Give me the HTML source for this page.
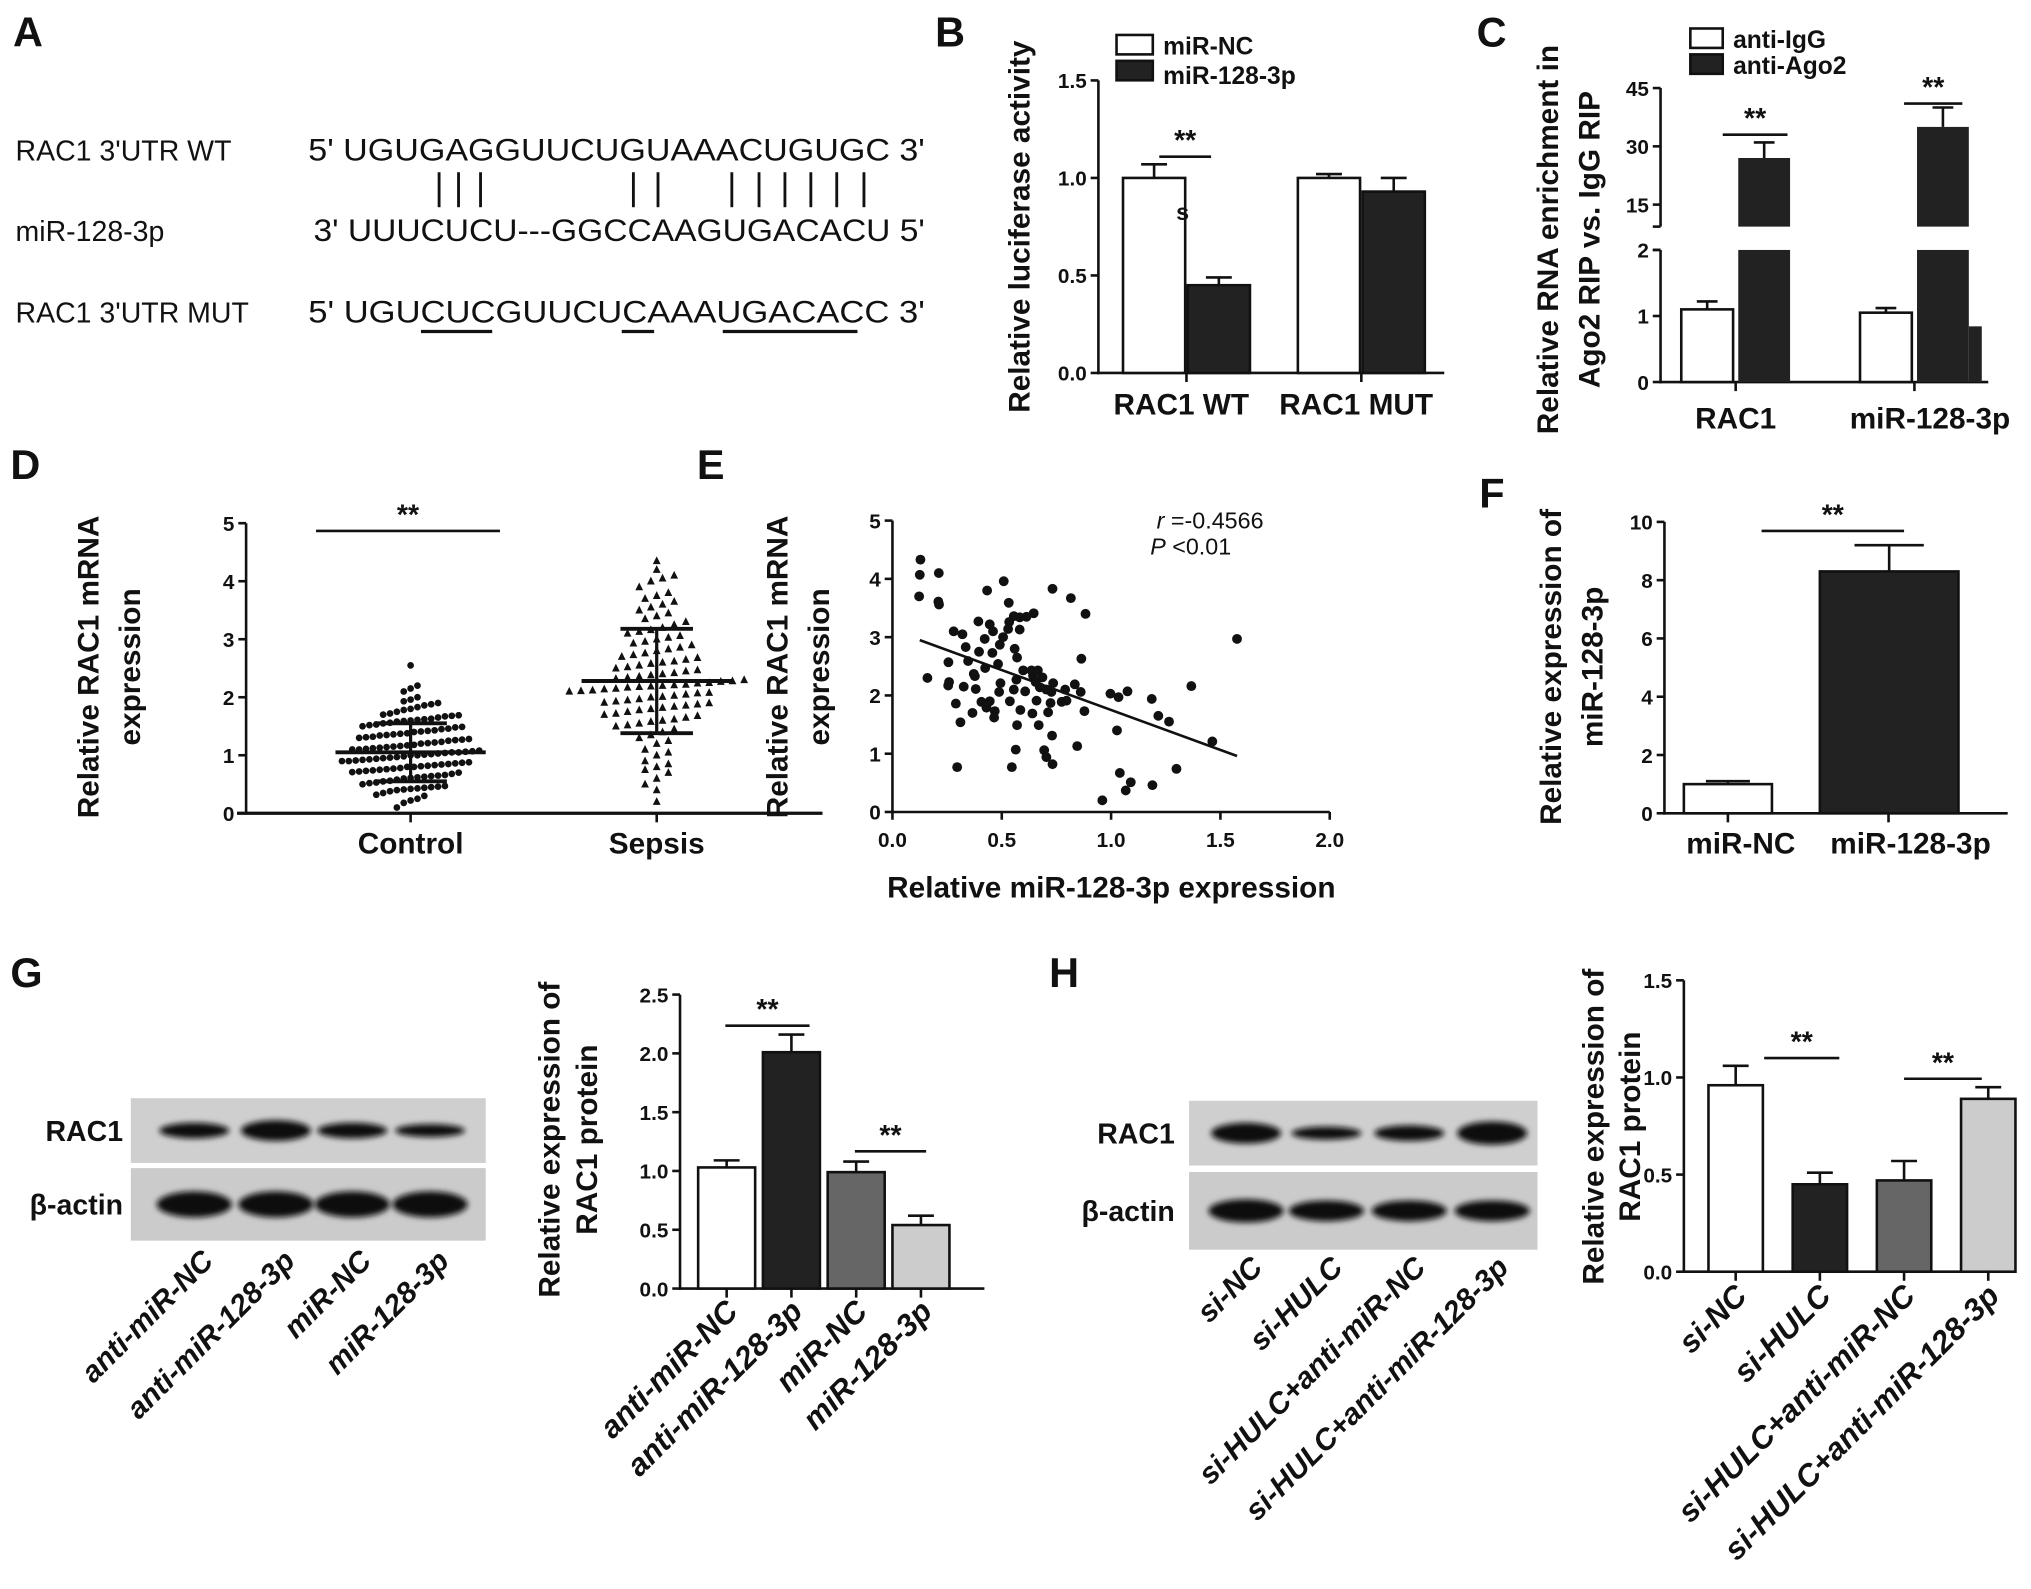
<!DOCTYPE html>
<html><head><meta charset="utf-8"><style>
html,body{margin:0;padding:0;background:#fff;}
svg{display:block;}
text{font-family:"Liberation Sans Narrow","Liberation Sans",sans-serif;fill:#111;}
</style></head><body>
<svg id="fig" xmlns="http://www.w3.org/2000/svg" width="2031" height="1589" viewBox="0 0 1568 1227" preserveAspectRatio="none">
<defs><filter id="blur" x="-20%" y="-50%" width="140%" height="200%"><feGaussianBlur stdDeviation="2.2"/></filter></defs>
<rect x="0" y="0" width="1568" height="1227" fill="#fff"/>
</svg>
<script>
// ---------- DATA ----------
const bCats=['RAC1 WT','RAC1 MUT'];
const bNC=[1.0,1.0]; const bNCerr=[0.07,0.02];
const b128=[0.45,0.93]; const b128err=[0.04,0.07];
const bTicks=[0,0.5,1.0,1.5]; const bTickLabels=['0.0','0.5','1.0','1.5'];

const cCats=['RAC1','miR-128-3p'];
const cIgG=[1.1,1.05]; const cIgGerr=[0.12,0.07];
const cAgo=[27,35]; const cAgoErr=[4,5];
const cTicksLow=[0,1,2]; const cTicksHigh=[15,30,45];

const dControl=[0.1,0.18,0.22,0.25,0.3,0.32,0.35,0.38,0.4,0.41,0.42,0.43,0.44,0.45,0.46,0.47,0.5,0.52,0.53,0.55,0.56,0.58,0.6,0.61,0.62,0.63,0.64,0.65,0.66,0.68,0.7,0.71,0.72,0.73,0.74,0.75,0.76,0.77,0.78,0.8,0.8,0.81,0.82,0.83,0.84,0.85,0.86,0.87,0.88,0.9,0.9,0.91,0.92,0.93,0.94,0.95,0.96,0.97,0.98,1.0,1.0,1.01,1.02,1.03,1.04,1.05,1.05,1.06,1.07,1.08,1.1,1.1,1.11,1.12,1.13,1.14,1.15,1.16,1.17,1.18,1.2,1.21,1.22,1.23,1.25,1.26,1.27,1.28,1.3,1.31,1.32,1.34,1.35,1.36,1.37,1.38,1.4,1.41,1.42,1.43,1.45,1.46,1.48,1.49,1.5,1.52,1.53,1.55,1.56,1.58,1.59,1.6,1.61,1.62,1.63,1.65,1.67,1.68,1.69,1.7,1.72,1.75,1.78,1.8,1.83,1.86,1.88,1.9,1.93,1.96,2.0,2.1,2.15,2.2,2.55];
const dSepsis=[0.2,0.4,0.5,0.6,0.7,0.75,0.8,0.85,0.9,1.0,1.05,1.1,1.2,1.25,1.3,1.35,1.4,1.45,1.5,1.52,1.55,1.58,1.6,1.62,1.65,1.68,1.7,1.72,1.75,1.78,1.8,1.82,1.84,1.86,1.88,1.9,1.91,1.93,1.95,1.97,2.0,2.01,2.03,2.05,2.07,2.08,2.1,2.11,2.12,2.14,2.15,2.17,2.18,2.19,2.2,2.21,2.22,2.24,2.25,2.27,2.28,2.3,2.32,2.34,2.36,2.38,2.4,2.42,2.45,2.47,2.5,2.52,2.55,2.58,2.6,2.62,2.65,2.68,2.7,2.73,2.76,2.8,2.83,2.86,2.9,2.93,2.96,3.0,3.03,3.06,3.1,3.13,3.16,3.2,3.25,3.3,3.35,3.4,3.45,3.5,3.55,3.6,3.65,3.7,3.75,3.8,3.9,4.0,4.05,4.1,4.2,4.35];
const dMean=[1.05,2.28]; const dSD=[0.5,0.9];

const eX=[0.128,0.125,0.212,0.122,0.210,0.213,0.509,0.433,0.732,0.816,0.532,0.883,0.646,0.613,0.582,0.555,0.534,0.393,0.445,0.460,0.582,0.529,0.280,0.320,0.506,0.422,0.491,0.335,0.559,0.396,0.457,0.570,0.864,0.256,0.346,0.483,0.424,0.598,0.636,0.665,0.372,0.643,0.686,0.160,0.377,0.567,0.259,0.255,0.494,0.326,0.381,0.655,0.674,0.735,0.834,0.704,0.555,0.488,0.607,0.790,0.727,0.861,0.997,1.034,1.075,1.186,1.367,1.576,0.290,0.407,0.445,0.537,0.659,0.723,0.774,0.796,0.430,0.468,0.585,0.712,0.878,0.366,0.465,0.640,0.311,0.570,0.669,1.216,1.265,1.027,0.730,0.845,0.564,0.694,0.704,0.732,0.296,0.546,1.040,1.090,1.067,1.189,1.299,1.463,0.960];
const eY=[4.33,4.07,4.10,3.70,3.61,3.56,3.96,3.80,3.83,3.67,3.59,3.40,3.41,3.35,3.34,3.36,3.26,3.27,3.22,3.10,3.13,3.14,3.10,3.05,3.00,2.97,2.87,2.83,2.80,2.75,2.73,2.65,2.63,2.57,2.59,2.54,2.47,2.43,2.43,2.43,2.37,2.34,2.31,2.30,2.33,2.27,2.23,2.17,2.21,2.15,2.11,2.23,2.14,2.21,2.19,2.10,2.10,2.06,2.07,2.10,2.06,2.06,2.03,1.97,2.07,1.94,2.16,2.97,1.86,1.89,1.90,1.90,1.91,1.87,1.89,1.91,1.79,1.73,1.75,1.71,1.73,1.70,1.62,1.69,1.54,1.49,1.49,1.65,1.55,1.40,1.31,1.13,1.07,1.06,0.94,0.82,0.77,0.77,0.67,0.51,0.37,0.46,0.74,1.21,0.20];
const eFitSlope=-1.37; const eFitIntercept=3.12; const eFitRange=[0.125,1.576];

const fCats=['miR-NC','miR-128-3p']; const fVals=[1.0,8.3]; const fErr=[0.1,0.9];

const gCats=['anti-miR-NC','anti-miR-128-3p','miR-NC','miR-128-3p'];
const gVals=[1.03,2.01,0.99,0.54]; const gErr=[0.06,0.15,0.09,0.08];
const gRacBand=[12,16,12,10]; const gActBand=[20,20,20,20];

const hCats=['si-NC','si-HULC','si-HULC+anti-miR-NC','si-HULC+anti-miR-128-3p'];
const hVals=[0.96,0.45,0.47,0.89]; const hErr=[0.10,0.06,0.10,0.06];
const hRacBand=[16,10,12,18]; const hActBand=[18,16,16,16];

// ---------- HELPERS ----------
const NS='http://www.w3.org/2000/svg';
const svg=document.getElementById('fig');
function el(tag,attrs,parent){const e=document.createElementNS(NS,tag);for(const k in attrs)e.setAttribute(k,attrs[k]);(parent||svg).appendChild(e);return e;}
function grp(){return el('g',{});}
function T(p,x,y,s,size,anchor,extra){const t=el('text',Object.assign({x:x,y:y,'font-size':size,'font-weight':'bold','text-anchor':anchor||'start'},extra||{}),p);t.textContent=s;return t;}
function L(p,x1,y1,x2,y2,w){return el('line',{x1:x1,y1:y1,x2:x2,y2:y2,stroke:'#111','stroke-width':w||2},p);}
function R(p,x,y,w,h,fill){return el('rect',{x:x,y:y,width:w,height:h,fill:fill,stroke:'#111','stroke-width':2},p);}
function panelLetter(s,x,y){const t=T(svg,x,y,s,32,'start',{'font-family':'Liberation Sans, sans-serif'});

}
function yTitle(p,lines,cx,cy,size){lines.forEach((ln,i)=>{const x=cx[i];const t=T(p,x,cy,ln,size||22,'middle',{transform:'rotate(-90 '+x+' '+cy+')','font-family':'Liberation Sans, sans-serif'});

});}
function sig(p,x1,x2,y){L(p,x1,y,x2,y,2);const t=T(p,(x1+x2)/2,y-5,'**',22,'middle');

}

// ---------- PANEL A ----------
panelLetter('A',10,36);
(function(){const g=grp();


const rows=[['RAC1 3\'UTR WT',124,"5' UGUGAGGUUCUGUAAACUGUGC 3'",238,714],['miR-128-3p',186,"3' UUUCUCU---GGCCAAGUGACACU 5'",242,714],['RAC1 3\'UTR MUT',249,"5' UGUCUCGUUCUCAAAUGACACC 3'",238,714]];
rows.forEach(r=>{const a=T(g,12,r[1],r[0],22,'start',{'font-weight':'normal'});


const b=T(g,r[3],r[1],r[2],24,'start',{'font-weight':'normal',textLength:r[4]-r[3],lengthAdjust:'spacingAndGlyphs'});

});
[339,354,371,489,508,565,586,606,626,646,667].forEach(x=>L(g,x,133,x,160,2.2));
[[325,380],[480,505],[558,662]].forEach(u=>L(g,u[0],256,u[1],256,2.5));})();

// ---------- PANEL B ----------
panelLetter('B',722,36);
(function(){const g=grp();


const y=v=>288-v*150.6; const ax=848;
L(g,ax,y(1.5),ax,289,2); L(g,ax-1,288,1115,288,2);
bTicks.forEach((v,i)=>{L(g,ax-6,y(v),ax,y(v),2);T(g,ax-9,y(v)+6,bTickLabels[i],16,'end');});
const centers=[916,1051];
bCats.forEach((c,i)=>{const cx=centers[i];
const r1=R(g,cx-49,y(bNC[i]),48,y(0)-y(bNC[i]),'#fff');


L(g,cx-25,y(bNC[i]),cx-25,y(bNC[i]+bNCerr[i]),2);L(g,cx-35,y(bNC[i]+bNCerr[i]),cx-15,y(bNC[i]+bNCerr[i]),2);
const r2=R(g,cx+1,y(b128[i]),48,y(0)-y(b128[i]),'#222');


L(g,cx+25,y(b128[i]),cx+25,y(b128[i]+b128err[i]),2);L(g,cx+15,y(b128[i]+b128err[i]),cx+35,y(b128[i]+b128err[i]),2);
L(g,cx,288,cx,295,2);
const t=T(g,cx-4,320,c,23,'middle');

});
T(g,913,170,'s',18,'middle');
sig(g,895,935,121);
R(g,862,27,28,15,'#fff');R(g,862,47,28,15,'#222');
const l1=T(g,898,42,'miR-NC',19,'start');


const l2=T(g,898,65,'miR-128-3p',19,'start');


yTitle(g,['Relative luciferase activity'],[795],175,23);})();

// ---------- PANEL C ----------
panelLetter('C',1140,36);
(function(){const g=grp();


const yl=v=>295-v*51; const yh=v=>158-(v-15)*3; const ax=1282;
L(g,ax,68,ax,175,2); L(g,ax,193,ax,296,2); L(g,ax-1,295,1535,295,2);
L(g,ax-6,175,ax,175,2);L(g,ax-6,193,ax,193,2);
cTicksLow.forEach(v=>{L(g,ax-6,yl(v),ax,yl(v),2);T(g,ax-9,yl(v)+6,String(v),16,'end');});
cTicksHigh.forEach(v=>{L(g,ax-6,yh(v),ax,yh(v),2);T(g,ax-9,yh(v)+6,String(v),16,'end');});
const centers=[1340,1478];
cCats.forEach((c,i)=>{const cx=centers[i];
const r1=R(g,cx-42,yl(cIgG[i]),40,295-yl(cIgG[i]),'#fff');


L(g,cx-22,yl(cIgG[i]),cx-22,yl(cIgG[i]+cIgGerr[i]),2);L(g,cx-30,yl(cIgG[i]+cIgGerr[i]),cx-14,yl(cIgG[i]+cIgGerr[i]),2);
const r2=el('rect',{x:cx+2,y:193,width:40,height:102,fill:'#222'},g);


const r3=el('rect',{x:cx+2,y:yh(cAgo[i]),width:40,height:175-yh(cAgo[i]),fill:'#222'},g);


L(g,cx+22,yh(cAgo[i]),cx+22,yh(cAgo[i]+cAgoErr[i]),2);L(g,cx+14,yh(cAgo[i]+cAgoErr[i]),cx+30,yh(cAgo[i]+cAgoErr[i]),2);
L(g,cx,295,cx,302,2);
const t=T(g,i?1490:1340,331,c,23,'middle');

});
el('rect',{x:1520,y:252,width:10,height:43,fill:'#222'},g);
sig(g,1330,1380,104); sig(g,1470,1515,80);
R(g,1305,22,25,15,'#fff');R(g,1305,42,25,15,'#222');
const l1=T(g,1338,37,'anti-IgG',19,'start');


const l2=T(g,1338,57,'anti-Ago2',19,'start');


yTitle(g,['Relative RNA enrichment in','Ago2 RIP vs. IgG RIP'],[1203,1235],185,23);})();

// ---------- PANEL D ----------
panelLetter('D',8,370);
(function(){const g=grp();


const y=v=>628-v*44.8; const ax=190;
L(g,ax,y(5),ax,629,2); L(g,183,628,635,628,2.5);
[0,1,2,3,4,5].forEach(v=>{L(g,ax-6,y(v),ax,y(v),2);T(g,ax-9,y(v)+6,String(v),16,'end');});
const centers=[317,507]; const groups=[dControl,dSepsis]; const names=['Control','Sepsis']; const sp=[5.3,9];
groups.forEach((arr,gi)=>{const bins={};arr.forEach(v=>{const k=Math.round(v/0.2);(bins[k]=bins[k]||[]).push(v);});
Object.keys(bins).forEach(k=>{const vals=bins[k];const n=vals.length;vals.forEach((v,j)=>{const x=centers[gi]+(j-(n-1)/2)*sp[gi];const yy=y(v);
let m;
if(gi===0){m=el('circle',{cx:x,cy:yy,r:2.6,fill:'#111'},g);}
else{m=el('polygon',{points:(x)+','+(yy-3.5)+' '+(x-3)+','+(yy+2.5)+' '+(x+3)+','+(yy+2.5),fill:'#111'},g);}

});});
const cx=centers[gi];
L(g,cx-58,y(dMean[gi]),cx+58,y(dMean[gi]),3);
L(g,cx,y(dMean[gi]-dSD[gi]),cx,y(dMean[gi]+dSD[gi]),2.5);
L(g,cx-28,y(dMean[gi]-dSD[gi]),cx+28,y(dMean[gi]-dSD[gi]),3);
L(g,cx-28,y(dMean[gi]+dSD[gi]),cx+28,y(dMean[gi]+dSD[gi]),3);
L(g,cx,628,cx,635,2);
const t=T(g,cx,659,names[gi],23,'middle');

});
sig(g,244,386,410);
yTitle(g,['Relative RAC1 mRNA','expression'],[76,108],515,23);})();

// ---------- PANEL E ----------
panelLetter('E',538,370);
(function(){const g=grp();


const x=v=>689+v*168.8; const y=v=>627-v*45;
L(g,689,y(5),689,628,2); L(g,688,627,x(2),627,2);
[0,1,2,3,4,5].forEach(v=>{L(g,683,y(v),689,y(v),2);T(g,680,y(v)+6,String(v),16,'end');});
[0,0.5,1,1.5,2].forEach(v=>{L(g,x(v),627,x(v),633,2);T(g,x(v),654,v.toFixed(1),16,'middle');});
eX.forEach((vx,i)=>{const c=el('circle',{cx:x(vx),cy:y(eY[i]),r:3.8,fill:'#111'},g);

});
const fl=L(g,x(eFitRange[0]),y(eFitIntercept+eFitSlope*eFitRange[0]),x(eFitRange[1]),y(eFitIntercept+eFitSlope*eFitRange[1]),2);


const s=T(g,893,408,'',18,'start',{'font-family':'Liberation Sans, sans-serif','font-weight':'normal'});
s.innerHTML='<tspan font-style="italic">r</tspan> =-0.4566';


const p=T(g,888,428,'',18,'start',{'font-family':'Liberation Sans, sans-serif','font-weight':'normal'});
p.innerHTML='<tspan font-style="italic">P</tspan> &lt;0.01';


const xt=T(g,858,693,'Relative miR-128-3p expression',23,'middle');


yTitle(g,['Relative RAC1 mRNA','expression'],[608,640],515,23);})();

// ---------- PANEL F ----------
panelLetter('F',1142,392);
(function(){const g=grp();


const y=v=>628-v*22.5; const ax=1285;
L(g,ax,y(10),ax,629,2); L(g,ax-1,628,1550,628,2);
[0,2,4,6,8,10].forEach(v=>{L(g,ax-6,y(v),ax,y(v),2);T(g,ax-9,y(v)+6,String(v),16,'end');});
const bx=[[1300,68,'#fff'],[1405,107,'#222']]; const tx=[1334,1458]; const lx=[1344,1475];
fCats.forEach((c,i)=>{const b=bx[i];const r=R(g,b[0],y(fVals[i]),b[1],628-y(fVals[i]),b[2]);


const cx=b[0]+b[1]/2;L(g,cx,y(fVals[i]),cx,y(fVals[i]+fErr[i]),2);L(g,cx-b[1]/4,y(fVals[i]+fErr[i]),cx+b[1]/4,y(fVals[i]+fErr[i]),2);
L(g,tx[i],628,tx[i],635,2);
const t=T(g,lx[i],659,c,23,'middle');

});
sig(g,1360,1470,410);
yTitle(g,['Relative expression of','miR-128-3p'],[1205,1237],515,23);})();

// ---------- BLOTS ----------
function blot(name,bx,bw,y1,y2,lanes,rac,act,labelX){const g=grp();


const b1=el('rect',{x:bx,y:y1[0],width:bw,height:y1[1],fill:'#cfcfcf'},g);


const b2=el('rect',{x:bx,y:y2[0],width:bw,height:y2[1],fill:'#cbcbcb'},g);


lanes.forEach((lx,i)=>{const e1=el('ellipse',{cx:lx,cy:y1[0]+y1[1]/2,rx:27,ry:rac[i]/2,fill:'#111',filter:'url(#blur)'},g);


const e2=el('ellipse',{cx:lx,cy:y2[0]+y2[1]/2,rx:29,ry:act[i]/2,fill:'#111',filter:'url(#blur)'},g);

});
T(g,labelX,y1[0]+y1[1]/2+8,'RAC1',22,'end');
T(g,labelX,y2[0]+y2[1]/2+8,'β-actin',22,'end');
return g;}
function rotLabels(g,cats,xs,yTop,size){cats.forEach((c,i)=>{const x=xs[i];const t=T(g,x,yTop,c,size,'end',{'font-style':'italic',transform:'rotate(-45 '+x+' '+yTop+')'});

});}

// ---------- PANEL G ----------
panelLetter('G',8,762);
(function(){const lanes=[150,213,272,332];
const g=blot('western-blot-g',101,274,[848,50],[902,56],lanes,gRacBand,gActBand,95);
rotLabels(g,gCats,lanes.map(x=>x+16),975,23);})();
(function(){const g=grp();


const y=v=>995-v*90.8; const ax=525;
L(g,ax,y(2.5),ax,996,2); L(g,ax-1,995,760,995,2);
[0,0.5,1,1.5,2,2.5].forEach(v=>{L(g,ax-6,y(v),ax,y(v),2);T(g,ax-9,y(v)+6,v.toFixed(1),16,'end');});
const centers=[561,611,661,711]; const fills=['#fff','#222','#666','#ccc'];
gCats.forEach((c,i)=>{const cx=centers[i];const r=R(g,cx-22,y(gVals[i]),44,995-y(gVals[i]),fills[i]);


L(g,cx,y(gVals[i]),cx,y(gVals[i]+gErr[i]),2);L(g,cx-10,y(gVals[i]+gErr[i]),cx+10,y(gVals[i]+gErr[i]),2);
L(g,cx,995,cx,1002,2);});
rotLabels(g,gCats,centers.map(x=>x+10),1014,24);
sig(g,560,625,792); sig(g,660,715,889);
yTitle(g,['Relative expression of','RAC1 protein'],[432,461],880,23);})();

// ---------- PANEL H ----------
panelLetter('H',810,762);
(function(){const lanes=[962,1024,1088,1152];
const g=blot('western-blot-h',918,269,[850,50],[905,60],lanes,hRacBand,hActBand,907);
rotLabels(g,hCats,lanes.map(x=>x+14),980,23);})();
(function(){const g=grp();


const y=v=>982-v*150; const ax=1300;
L(g,ax,y(1.5),ax,983,2); L(g,ax-1,982,1545,982,2);
[0,0.5,1,1.5].forEach(v=>{L(g,ax-6,y(v),ax,y(v),2);T(g,ax-9,y(v)+6,v.toFixed(1),16,'end');});
const centers=[1340,1405,1470,1535]; const fills=['#fff','#222','#666','#ccc'];
hCats.forEach((c,i)=>{const cx=centers[i];const r=R(g,cx-21,y(hVals[i]),42,982-y(hVals[i]),fills[i]);


L(g,cx,y(hVals[i]),cx,y(hVals[i]+hErr[i]),2);L(g,cx-10,y(hVals[i]+hErr[i]),cx+10,y(hVals[i]+hErr[i]),2);
L(g,cx,982,cx,989,2);});
rotLabels(g,hCats,centers.map(x=>x+10),1002,24);
sig(g,1362,1420,817); sig(g,1470,1530,833);
yTitle(g,['Relative expression of','RAC1 protein'],[1238,1266],870,23);})();
</script>
</body></html>
